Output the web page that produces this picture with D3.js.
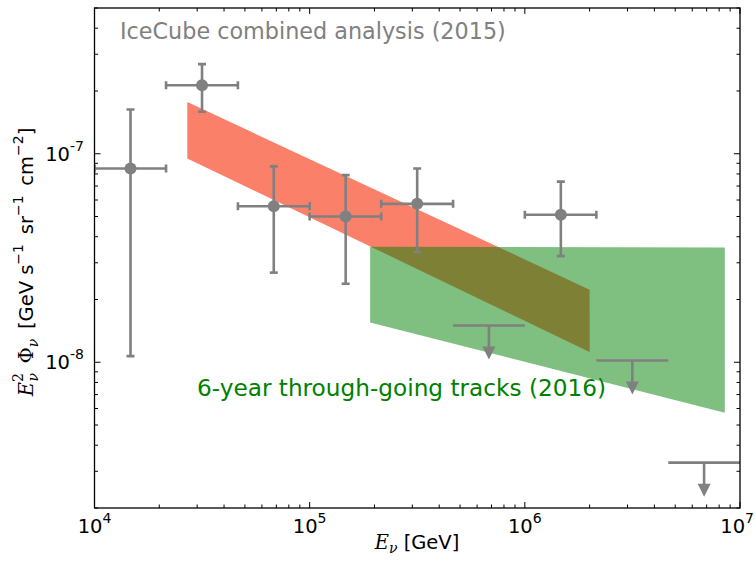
<!DOCTYPE html>
<html><head><meta charset="utf-8">
<script src="https://cdn.jsdelivr.net/npm/d3@7"></script>
<style>body{margin:0;background:#fff}text{font-family:"DejaVu Sans",sans-serif}</style>
</head><body>
<svg id="c" width="755" height="569"></svg>
<script>
// ---- data ----
const energyCenter = [1.47e4, 3.16e4, 6.81e4, 1.47e5, 3.16e5, 1.47e6];
const energyLow    = [1.0e4, 2.15e4, 4.64e4, 1.0e5, 2.15e5, 1.0e6];
const energyHigh   = [2.15e4, 4.64e4, 1.0e5, 2.15e5, 4.64e5, 2.15e6];
const flux         = [8.5e-8, 2.13e-7, 5.6e-8, 5.0e-8, 5.75e-8, 5.1e-8];
const fluxLow      = [1.07e-8, 1.59e-7, 2.69e-8, 2.38e-8, 3.37e-8, 3.23e-8];
const fluxHigh     = [1.63e-7, 2.69e-7, 8.7e-8, 7.9e-8, 8.5e-8, 7.35e-8];

const ulCenter = [6.81e5, 3.16e6, 6.81e6];
const ulLow    = [4.64e5, 2.15e6, 4.64e6];
const ulHigh   = [1.0e6, 4.64e6, 1.0e7];
const ulFlux   = [1.5e-8, 1.02e-8, 3.3e-9];

const combinedE    = [2.7e4, 2.0e6];
const combinedLow  = [9.5e-8, 1.12e-8];
const combinedHigh = [1.77e-7, 2.23e-8];

const tracksE    = [1.91e5, 8.5e6];
const tracksLow  = [1.55e-8, 5.73e-9];
const tracksHigh = [3.58e-8, 3.55e-8];

const xDomain = [1e4, 1e7];
const yDomain = [2e-9, 5e-7];
const xMajor = [1e4, 1e5, 1e6, 1e7];
const xMajorExp = ["4", "5", "6", "7"];
const yMajor = [1e-8, 1e-7];
const yMajorExp = ["-8", "-7"];

const label2015 = "IceCube combined analysis (2015)";
const label2016 = "6-year through-going tracks (2016)";

// ---- layout ----
const L = 94.5, R = 740, T = 8, B = 508;
const svg = d3.select("#c");
const x = d3.scaleLog().domain(xDomain).range([L, R]);
const y = d3.scaleLog().domain(yDomain).range([B, T]);
const gray = "#808080";

svg.append("defs").append("clipPath").attr("id","clip")
  .append("rect").attr("x",L).attr("y",T).attr("width",R-L).attr("height",B-T);
const plot = svg.append("g").attr("clip-path","url(#clip)");

// bands
const comb = combinedE.map((e,i)=>({e, lo:combinedLow[i], hi:combinedHigh[i]}));
const trk = tracksE.map((e,i)=>({e, lo:tracksLow[i], hi:tracksHigh[i]}));
const area = d3.area().x(d=>x(d.e)).y0(d=>y(d.lo)).y1(d=>y(d.hi));
plot.append("path").datum(comb).attr("d",area).attr("fill","#fb806a");
plot.append("path").datum(trk).attr("d",area).attr("fill","#008000").attr("fill-opacity",0.5);

// error bars
const pts = energyCenter.map((e,i)=>({e, el:energyLow[i], eh:energyHigh[i], f:flux[i], fl:fluxLow[i], fh:fluxHigh[i]}));
const eb = plot.append("g").attr("stroke",gray).attr("stroke-width",2.6).attr("fill","none");
const cap = 4;
pts.forEach(p=>{
  eb.append("line").attr("x1",x(p.el)).attr("x2",x(p.eh)).attr("y1",y(p.f)).attr("y2",y(p.f));
  eb.append("line").attr("x1",x(p.e)).attr("x2",x(p.e)).attr("y1",y(p.fl)).attr("y2",y(p.fh));
  eb.append("line").attr("x1",x(p.el)).attr("x2",x(p.el)).attr("y1",y(p.f)-cap).attr("y2",y(p.f)+cap);
  eb.append("line").attr("x1",x(p.eh)).attr("x2",x(p.eh)).attr("y1",y(p.f)-cap).attr("y2",y(p.f)+cap);
  eb.append("line").attr("x1",x(p.e)-cap).attr("x2",x(p.e)+cap).attr("y1",y(p.fl)).attr("y2",y(p.fl));
  eb.append("line").attr("x1",x(p.e)-cap).attr("x2",x(p.e)+cap).attr("y1",y(p.fh)).attr("y2",y(p.fh));
});
plot.append("g").selectAll("circle").data(pts).join("circle")
  .attr("cx",d=>x(d.e)).attr("cy",d=>y(d.f)).attr("r",6).attr("fill",gray);

// upper limits
const uls = ulCenter.map((e,i)=>({e, el:ulLow[i], eh:ulHigh[i], f:ulFlux[i]}));
const ug = plot.append("g");
const shaft = 21, headL = 13, headW = 6.5;
uls.forEach(u=>{
  const cx = x(u.e), cy = y(u.f);
  ug.append("line").attr("x1",x(u.el)).attr("x2",x(u.eh)).attr("y1",cy).attr("y2",cy)
    .attr("stroke",gray).attr("stroke-width",2.6);
  ug.append("line").attr("x1",cx).attr("x2",cx).attr("y1",cy).attr("y2",cy+shaft+1)
    .attr("stroke",gray).attr("stroke-width",2.6);
  ug.append("path").attr("d",`M${cx-headW},${cy+shaft} L${cx+headW},${cy+shaft} L${cx},${cy+shaft+headL} Z`)
    .attr("fill",gray);
});

// texts
svg.append("text").attr("x",120).attr("y",39).attr("fill",gray).attr("font-size",22.3).text(label2015);
svg.append("text").attr("x",197).attr("y",396).attr("fill","#008000").attr("font-size",23.2).text(label2016);

// axes frame
svg.append("rect").attr("x",L).attr("y",T).attr("width",R-L).attr("height",B-T)
  .attr("fill","none").attr("stroke","#000").attr("stroke-width",1.3);

// ticks
const tk = svg.append("g").attr("stroke","#000").attr("stroke-width",1);
const xMinor = x.ticks().filter(v=>!xMajor.some(m=>Math.abs(m-v)/m<1e-6));
const yMinor = y.ticks().filter(v=>!yMajor.some(m=>Math.abs(m-v)/m<1e-6));
function xt(vals,len){vals.forEach(v=>{const px=x(v);
  tk.append("line").attr("x1",px).attr("x2",px).attr("y1",B).attr("y2",B-len);
  tk.append("line").attr("x1",px).attr("x2",px).attr("y1",T).attr("y2",T+len);});}
function yt(vals,len){vals.forEach(v=>{const py=y(v);
  tk.append("line").attr("y1",py).attr("y2",py).attr("x1",L).attr("x2",L+len);
  tk.append("line").attr("y1",py).attr("y2",py).attr("x1",R).attr("x2",R-len);});}
xt(xMajor,6); xt(xMinor,3.5); yt(yMajor,6); yt(yMinor,3.5);

// tick labels
xMajor.forEach((v,i)=>{
  const last = i === xMajor.length-1;
  const t = svg.append("text").attr("x",last ? 754 : x(v)).attr("y",533)
    .attr("text-anchor",last ? "end" : "middle").attr("font-size",19.5);
  t.append("tspan").text("10");
  t.append("tspan").attr("dy",-10).attr("font-size",14).text(xMajorExp[i]);
});
yMajor.forEach((v,i)=>{
  const t = svg.append("text").attr("x",84).attr("y",y(v)+7).attr("text-anchor","end").attr("font-size",19.5);
  t.append("tspan").text("10");
  t.append("tspan").attr("dy",-10).attr("font-size",14).text(yMajorExp[i]);
});

// x label
const xl = svg.append("text").attr("x",417).attr("y",549).attr("text-anchor","middle").attr("font-size",19.5);
xl.append("tspan").attr("font-family","DejaVu Serif").attr("font-style","italic").text("E");
xl.append("tspan").attr("font-family","DejaVu Serif").attr("font-style","italic").attr("font-size",14).attr("dy",4).text("ν");
xl.append("tspan").attr("dy",-4).text(" [GeV]");

// y label
const yl = svg.append("text").attr("transform","translate(33,262) rotate(-90)").attr("text-anchor","middle").attr("font-size",19.5);
const serif = s=>s.attr("font-family","DejaVu Serif");
serif(yl.append("tspan")).attr("font-style","italic").text("E");
serif(yl.append("tspan")).attr("font-size",14).attr("dy",-10).text("2");
serif(yl.append("tspan")).attr("font-style","italic").attr("font-size",14).attr("dx",-8.5).attr("dy",15).text("ν");
serif(yl.append("tspan")).attr("dy",-5).text("\u2002Φ");
serif(yl.append("tspan")).attr("font-style","italic").attr("font-size",14).attr("dy",5).text("ν");
yl.append("tspan").attr("dy",-5).text("\u2002[GeV s");
yl.append("tspan").attr("font-size",14).attr("dy",-10).text("−1");
yl.append("tspan").attr("dy",10).text("\u2002sr");
yl.append("tspan").attr("font-size",14).attr("dy",-10).text("−1");
yl.append("tspan").attr("dy",10).text("\u2002cm");
yl.append("tspan").attr("font-size",14).attr("dy",-10).text("−2");
yl.append("tspan").attr("dy",10).text("]");
</script>
</body></html>
